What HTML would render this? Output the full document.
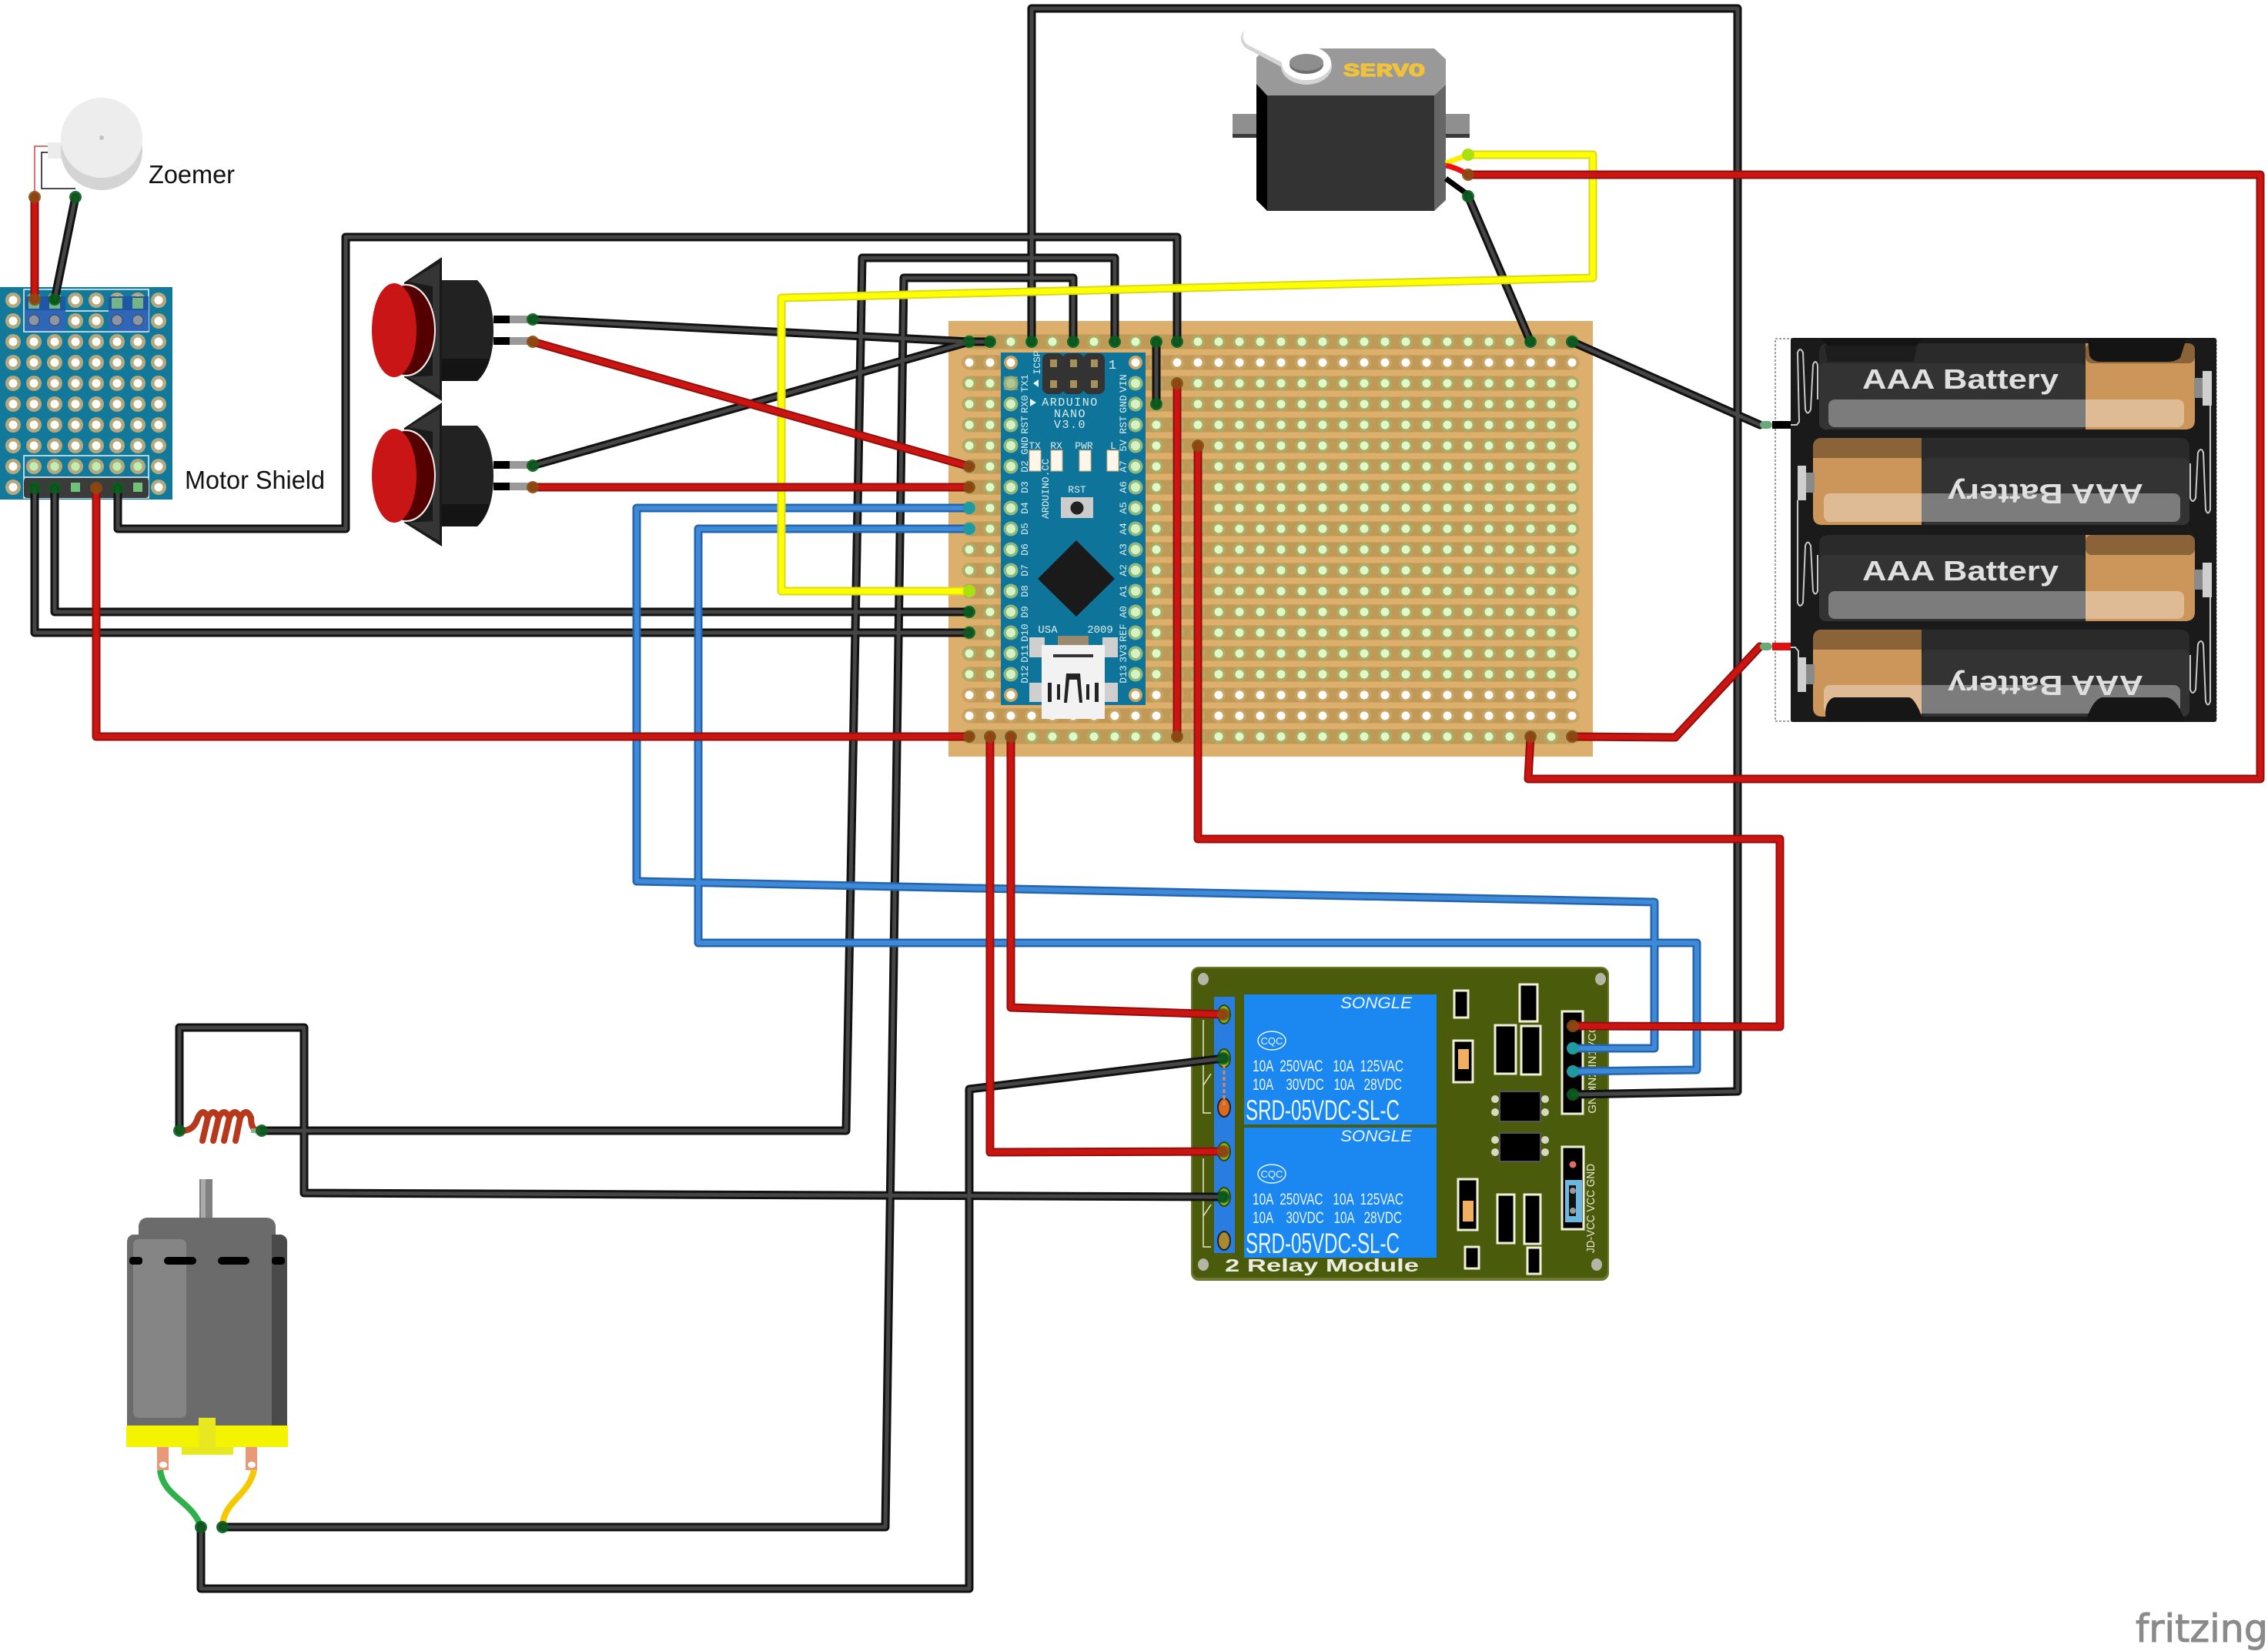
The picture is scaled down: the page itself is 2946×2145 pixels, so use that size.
<!DOCTYPE html>
<html><head><meta charset="utf-8"><style>
html,body{margin:0;padding:0;background:#fff}
svg{display:block}
text{font-family:"Liberation Sans",sans-serif;white-space:pre}
.m{font-family:"Liberation Mono",monospace;fill:#d8eef2;font-size:13px;text-anchor:middle}
.r{fill:#e8f4fb;font-size:21px}
.c{fill:#000;stroke:#f0f0d8;stroke-width:3}
.e{fill:none;stroke-linecap:round;stroke-linejoin:round}
</style></head><body>
<svg width="2946" height="2145" viewBox="0 0 2946 2145" xmlns="http://www.w3.org/2000/svg">
<defs>
<pattern id="hg" patternUnits="userSpaceOnUse" x="1245.5" y="430.5" width="27" height="27"><circle cx="13.5" cy="13.5" r="9" fill="#a9ad66"/><circle cx="13.5" cy="13.5" r="5.5" fill="#e2f8c8"/></pattern>
<pattern id="hw" patternUnits="userSpaceOnUse" x="1245.5" y="430.5" width="27" height="27"><circle cx="13.5" cy="13.5" r="9" fill="#c8a465"/><circle cx="13.5" cy="13.5" r="5.5" fill="#fff"/></pattern>
<pattern id="pn" patternUnits="userSpaceOnUse" x="1245.5" y="430.5" width="27" height="27"><circle cx="13.5" cy="13.5" r="9.5" fill="#8fb87e"/><circle cx="13.5" cy="13.5" r="6" fill="#d4f2c4"/></pattern>
<pattern id="sh" patternUnits="userSpaceOnUse" x="3.5" y="376.5" width="27" height="27"><circle cx="13.5" cy="13.5" r="10" fill="#b3a87e"/><circle cx="13.5" cy="13.5" r="5.5" fill="#fff"/></pattern>
<g id="wk" class="e">
<path d="M1340 444V11H2257V1418L2043 1422"/>
<path d="M1394 444V361H1174L1150 1984H289"/>
<path d="M1448 444V335H1120L1099 1469H340"/>
<path d="M1529 444V308H449V687H153V634"/>
<path d="M1502 444V525"/>
<path d="M692 415L1259 444H1286"/>
<path d="M692 605L1259 444"/>
<path d="M1907 255L1988 444"/>
<path d="M2042 444L2286 552"/>
<path d="M45 634V822H1259"/>
<path d="M71 634V795H1259"/>
<path d="M1589 1375L1259 1415V2064H261V1984"/>
<path d="M233 1469V1335H395V1550L1589 1555"/>
<path d="M98 256L71 389"/>
</g>
<g id="wr" class="e">
<path d="M692 444L1259 606"/>
<path d="M692 633H1259"/>
<path d="M1907 227H2936V1012H1985L1988 957"/>
<path d="M2042 957L2176 958L2286 840"/>
<path d="M1556 579V1090H2312V1334L2043 1333"/>
<path d="M125 634V957H1259"/>
<path d="M1286 957V1497L1589 1496"/>
<path d="M1313 957V1309L1589 1318"/>
<path d="M1529 498V957"/>
<path d="M45 256V389"/>
</g>
<g id="wb" class="e">
<path d="M1259 660H827V1145L2149 1172V1362H2043"/>
<path d="M1259 687H907V1225H2204V1390L2043 1392"/>
</g>
<g id="wy" class="e">
<path d="M1259 768H1015V387L2069 361V201H1907"/>
</g>
</defs>
<rect width="2946" height="2145" fill="#fff"/>

<!-- Stripboard -->
<rect x="1232" y="417" width="837" height="566" fill="#dcb06c"/>
<path stroke="#bf9955" stroke-width="19" stroke-linecap="round" fill="none" d="M1259 444H2042M1259 471H2042M1259 498H2042M1259 525H2042M1259 552H2042M1259 579H2042M1259 606H2042M1259 633H2042M1259 660H2042M1259 687H2042M1259 714H2042M1259 741H2042M1259 768H2042M1259 795H2042M1259 822H2042M1259 849H2042M1259 876H2042M1259 903H2042M1259 930H2042M1259 957H2042"/>
<rect x="1245.5" y="430.5" width="810" height="27" fill="url(#hg)"/>
<rect x="1245.5" y="457.5" width="810" height="27" fill="url(#hw)"/>
<rect x="1245.5" y="484.5" width="810" height="405" fill="url(#hg)"/>
<rect x="1245.5" y="889.5" width="810" height="54" fill="url(#hw)"/>
<rect x="1245.5" y="943.5" width="810" height="27" fill="url(#hg)"/>

<!-- Arduino Nano -->
<rect x="1300" y="458" width="188" height="458" fill="#0f7499"/>
<rect x="1299.5" y="484.5" width="27" height="405" fill="url(#pn)"/>
<rect x="1461.5" y="484.5" width="27" height="405" fill="url(#pn)"/>
<rect x="1304" y="489" width="18" height="18" fill="#a0a878" opacity=".6"/>
<circle cx="1313" cy="471" r="9" fill="#c8a465"/><circle cx="1313" cy="471" r="5.5" fill="#fff"/>
<circle cx="1475" cy="471" r="9" fill="#c8a465"/><circle cx="1475" cy="471" r="5.5" fill="#fff"/>
<circle cx="1313" cy="903" r="9" fill="#c8a465"/><circle cx="1313" cy="903" r="5.5" fill="#fff"/>
<circle cx="1475" cy="903" r="9" fill="#c8a465"/><circle cx="1475" cy="903" r="5.5" fill="#fff"/>
<g fill="#333"><rect x="1354" y="459" width="28" height="53" rx="8"/><rect x="1380" y="459" width="28" height="53" rx="8"/><rect x="1407" y="459" width="28" height="53" rx="8"/></g>
<g fill="#a8905a"><rect x="1364" y="467" width="9" height="10"/><rect x="1390" y="467" width="9" height="10"/><rect x="1417" y="467" width="9" height="10"/><rect x="1364" y="494" width="9" height="10"/><rect x="1390" y="494" width="9" height="10"/><rect x="1417" y="494" width="9" height="10"/></g>
<text class="m" transform="translate(1351,471) rotate(-90)">ICSP</text>
<text class="m" x="1445" y="479" style="font-size:17px">1</text>
<path d="M1342 498l7 -5v10z" fill="#e8f4f8"/>
<path d="M1338 518v10l8 -5z" fill="#e8f4f8"/>
<text class="m" x="1390" y="527" letter-spacing="1.5" style="font-size:15px">ARDUINO</text>
<text class="m" x="1390" y="542" letter-spacing="1.5" style="font-size:15px">NANO</text>
<text class="m" x="1390" y="556" letter-spacing="1.5" style="font-size:15px">V3.0</text>
<g fill="#fdf6ea" stroke="#d8b078" stroke-width="1"><rect x="1337" y="585" width="15" height="27"/><rect x="1365" y="585" width="15" height="27"/><rect x="1402" y="585" width="15" height="27"/><rect x="1438" y="585" width="15" height="27"/></g>
<text class="m" x="1344" y="583">TX</text><text class="m" x="1372" y="583">RX</text><text class="m" x="1408" y="583">PWR</text><text class="m" x="1446" y="583">L</text>
<text class="m" transform="translate(1362,635) rotate(-90)">ARDUINO.CC</text>
<text class="m" x="1399" y="640">RST</text>
<rect x="1378" y="646" width="42" height="27" fill="#ccc"/><circle cx="1399" cy="660" r="8.5" fill="#222"/>
<path d="M1398 702L1448 752L1398 801L1348 752Z" fill="#1a1a1a"/>
<text class="m" x="1361" y="822" style="font-size:14px">USA</text><text class="m" x="1429" y="822" style="font-size:14px">2009</text>
<g>
<text class="m" transform="translate(1335,498) rotate(-90)">TX1</text><text class="m" transform="translate(1335,525) rotate(-90)">RX0</text><text class="m" transform="translate(1335,552) rotate(-90)">RST</text><text class="m" transform="translate(1335,579) rotate(-90)">GND</text><text class="m" transform="translate(1335,606) rotate(-90)">D2</text><text class="m" transform="translate(1335,633) rotate(-90)">D3</text><text class="m" transform="translate(1335,660) rotate(-90)">D4</text><text class="m" transform="translate(1335,687) rotate(-90)">D5</text><text class="m" transform="translate(1335,714) rotate(-90)">D6</text><text class="m" transform="translate(1335,741) rotate(-90)">D7</text><text class="m" transform="translate(1335,768) rotate(-90)">D8</text><text class="m" transform="translate(1335,795) rotate(-90)">D9</text><text class="m" transform="translate(1335,822) rotate(-90)">D10</text><text class="m" transform="translate(1335,849) rotate(-90)">D11</text><text class="m" transform="translate(1335,876) rotate(-90)">D12</text>
<text class="m" transform="translate(1463,498) rotate(-90)">VIN</text><text class="m" transform="translate(1463,525) rotate(-90)">GND</text><text class="m" transform="translate(1463,552) rotate(-90)">RST</text><text class="m" transform="translate(1463,579) rotate(-90)">5V</text><text class="m" transform="translate(1463,606) rotate(-90)">A7</text><text class="m" transform="translate(1463,633) rotate(-90)">A6</text><text class="m" transform="translate(1463,660) rotate(-90)">A5</text><text class="m" transform="translate(1463,687) rotate(-90)">A4</text><text class="m" transform="translate(1463,714) rotate(-90)">A3</text><text class="m" transform="translate(1463,741) rotate(-90)">A2</text><text class="m" transform="translate(1463,768) rotate(-90)">A1</text><text class="m" transform="translate(1463,795) rotate(-90)">A0</text><text class="m" transform="translate(1463,822) rotate(-90)">REF</text><text class="m" transform="translate(1463,849) rotate(-90)">3V3</text><text class="m" transform="translate(1463,876) rotate(-90)">D13</text>
</g>
<g fill="#cfcfcf"><rect x="1337" y="828" width="20" height="26"/><rect x="1432" y="828" width="20" height="26"/><rect x="1337" y="887" width="20" height="25"/><rect x="1432" y="887" width="20" height="25"/></g>
<rect x="1374" y="826" width="40" height="12" fill="#9a8a70"/>
<rect x="1353" y="838" width="82" height="96" fill="#f2f2f2"/>
<rect x="1368" y="850" width="52" height="4" fill="#333"/>
<path d="M1385 875h18l3 38h-4l-3 -30h-10l-3 30h-4z" fill="#222"/>
<rect x="1361" y="887" width="5" height="25" fill="#222"/><rect x="1422" y="887" width="5" height="25" fill="#222"/>
<rect x="1373" y="889" width="4" height="20" fill="#222"/><rect x="1411" y="889" width="4" height="20" fill="#222"/>

<!-- Shield -->
<rect x="0" y="373" width="224" height="276" fill="#12799a"/>
<rect x="3.5" y="376.5" width="216" height="270" fill="url(#sh)"/>
<rect x="31" y="376" width="162" height="55" fill="none" stroke="#e8f2f2" stroke-width="1.5"/>
<rect x="31" y="592" width="162" height="55" fill="none" stroke="#e8f2f2" stroke-width="1.5"/>
<path d="M85 404h56M31 620h162" stroke="#e8f2f2" stroke-width="1.5"/>
<g fill="#1f57a5"><rect x="33" y="385" width="52" height="45"/><rect x="141" y="385" width="52" height="45"/></g>
<g fill="#2f66b8"><rect x="33" y="403" width="52" height="27"/><rect x="141" y="403" width="52" height="27"/></g>
<g fill="#73b586"><rect x="37" y="387" width="14" height="14"/><rect x="64" y="387" width="14" height="14"/><rect x="145" y="387" width="14" height="14"/><rect x="172" y="387" width="14" height="14"/></g>
<g fill="#8a96a5" stroke="#444" stroke-width="1"><circle cx="44" cy="416" r="7"/><circle cx="71" cy="416" r="7"/><circle cx="152" cy="416" r="7"/><circle cx="179" cy="416" r="7"/></g>
<rect x="31" y="621" width="162" height="26" rx="4" fill="#3b3b3b"/>
<g fill="#6fc276"><rect x="92" y="627" width="12" height="12"/><rect x="173" y="627" width="12" height="12"/></g>
<g fill="#bcefb0"><circle cx="44" cy="606" r="5.5"/><circle cx="71" cy="606" r="5.5"/><circle cx="98" cy="606" r="5.5"/><circle cx="125" cy="606" r="5.5"/><circle cx="152" cy="606" r="5.5"/><circle cx="179" cy="606" r="5.5"/></g>
<text x="240" y="635" font-size="33" fill="#111" textLength="182" lengthAdjust="spacingAndGlyphs">Motor Shield</text>

<!-- Buzzer -->
<path d="M45 256V190H80" fill="none" stroke="#d84040" stroke-width="1.5"/>
<path d="M98 245H54V198H80" fill="none" stroke="#111" stroke-width="1.5"/>
<rect x="62" y="185" width="18" height="21" fill="#ececec"/>
<ellipse cx="132" cy="196" rx="53" ry="51" fill="#d4d4d4"/>
<ellipse cx="132" cy="179" rx="53" ry="52" fill="#ededed"/>
<circle cx="132" cy="179" r="3" fill="#c4c4c4"/>
<text x="193" y="238" font-size="33" fill="#111" textLength="112" lengthAdjust="spacingAndGlyphs">Zoemer</text>

<!-- Buttons -->
<g id="bt">
<path d="M574 334V521L525 490V367Z" fill="#1a1a1a"/><path d="M571 342L530 366L562 372V488L530 490L571 514" fill="#484848" opacity=".6"/>
<path d="M574 364H620Q641 385 641 430Q641 475 620 495H574Z" fill="#222"/><path d="M574 466H636Q632 482 620 495H574Z" fill="#141414"/>
<ellipse cx="528" cy="429" rx="38" ry="60" fill="#f4e8e8"/><ellipse cx="527" cy="429" rx="37" ry="58" fill="#540000"/>
<ellipse cx="512" cy="429" rx="29" ry="61" fill="#c91515"/>
<rect x="641" y="410" width="21" height="10" fill="#000"/><rect x="662" y="410" width="30" height="10" fill="#999"/>
<rect x="641" y="438" width="21" height="10" fill="#000"/><rect x="662" y="438" width="30" height="10" fill="#999"/>
</g>
<use href="#bt" y="189"/>

<!-- Servo -->
<path d="M1601 148H1646V178H1601Z" fill="#8f8f8f"/><rect x="1601" y="174" width="45" height="5" fill="#3a3a3a"/>
<path d="M1863 148H1909V178H1863Z" fill="#8f8f8f"/><rect x="1863" y="174" width="46" height="5" fill="#3a3a3a"/>
<path d="M1632 75L1643 63H1863L1878 77V110L1863 124H1646L1632 109Z" fill="#999"/>
<path d="M1632 109L1646 124V274L1632 260Z" fill="#000"/>
<path d="M1863 124L1878 110V260L1863 274Z" fill="#666"/>
<rect x="1646" y="124" width="217" height="150" fill="#333"/>
<path d="M1628 48L1697 85" stroke="#d4d4d4" stroke-width="30" stroke-linecap="round" transform="translate(-1,2)"/>
<ellipse cx="1697" cy="86" rx="33" ry="24" fill="#d4d4d4"/>
<path d="M1628 47L1697 82" stroke="#fff" stroke-width="27" stroke-linecap="round"/>
<ellipse cx="1697" cy="82" rx="32" ry="22" fill="#fff"/>
<ellipse cx="1697" cy="84" rx="22" ry="12" fill="#6e6e6e"/><ellipse cx="1697" cy="81" rx="22" ry="11" fill="#8e8e8e"/>
<text x="1745" y="99" font-weight="700" font-size="24" fill="#f0c23c" stroke="#f0c23c" stroke-width="1.2" textLength="106" lengthAdjust="spacingAndGlyphs" style="font-family:'Liberation Mono',monospace">SERVO</text>
<path d="M1878 212L1907 201" stroke="#ffee00" stroke-width="7" fill="none"/>
<path d="M1878 215Q1893 218 1907 227" stroke="#ee1010" stroke-width="7" fill="none"/>
<path d="M1878 232L1907 253" stroke="#000" stroke-width="7" fill="none"/>

<!-- Battery -->
<rect x="2306" y="440" width="573" height="497" fill="none" stroke="#444" stroke-width="1" stroke-dasharray="3 2"/>
<rect x="2326" y="439" width="553" height="499" rx="3" fill="#1a1a1a"/>
<g id="bA">
<path d="M2363 458Q2363 446 2375 446H2709V558H2375Q2363 558 2363 546Z" fill="#2a2a2a"/>
<rect x="2363" y="472" width="346" height="86" rx="8" fill="#333"/>
<path d="M2709 446H2840Q2851 446 2851 458V546Q2851 558 2838 558H2709Z" fill="#cc9559"/>
<rect x="2709" y="446" width="142" height="26" rx="8" fill="#8a6338"/>
<rect x="2375" y="519" width="462" height="36" rx="8" fill="#fff" opacity=".36"/>
<text x="2419" y="505" font-size="36" font-weight="700" fill="#dfdfdf" textLength="255" lengthAdjust="spacingAndGlyphs">AAA Battery</text>
</g>
<use href="#bA" y="249"/>
<path d="M2366 440H2496L2490 449H2374ZM2712 440H2840L2832 465Q2825 470 2815 470H2728Q2718 470 2714 462Z" fill="#141414"/>
<path d="M2370 449H2490L2486 470H2374Z" fill="#1d1d1d"/>
<g id="bB">
<path d="M2355 581Q2355 569 2367 569H2496V682H2367Q2355 682 2355 670Z" fill="#cc9559"/>
<path d="M2355 581Q2355 569 2367 569H2496V595H2355Z" fill="#8a6338"/>
<path d="M2496 569H2832Q2844 569 2844 581V670Q2844 682 2832 682H2496Z" fill="#2a2a2a"/>
<rect x="2496" y="595" width="348" height="87" rx="8" fill="#333"/>
<rect x="2369" y="641" width="463" height="37" rx="8" fill="#fff" opacity=".36"/>
<text transform="rotate(180 2657 642)" x="2530" y="655" font-size="36" font-weight="700" fill="#dfdfdf" textLength="254" lengthAdjust="spacingAndGlyphs">AAA Battery</text>
</g>
<use href="#bB" y="249"/>
<path d="M2372 938Q2368 912 2382 906H2480Q2488 908 2498 935ZM2710 935Q2718 910 2730 906H2815Q2830 910 2838 938H2710Z" fill="#161616"/>
<g fill="#cfcfcf"><rect x="2861" y="482" width="12" height="45"/><rect x="2861" y="731" width="12" height="45"/><rect x="2335" y="605" width="11" height="45"/><rect x="2335" y="854" width="11" height="45"/></g>
<g fill="#8a8a8a"><rect x="2850" y="491" width="11" height="26"/><rect x="2850" y="740" width="11" height="26"/><rect x="2346" y="614" width="11" height="26"/><rect x="2346" y="863" width="11" height="26"/></g>
<g fill="none" stroke="#c8c8c8" stroke-width="2">
<path d="M2326 552H2334L2337 548L2335 458Q2338 450 2342 458L2345 532Q2348 541 2352 532L2355 474Q2358 466 2361 474V519"/>
<path d="M2871 527V662Q2868 671 2865 662L2862 588Q2859 580 2855 588L2852 647Q2848 655 2845 647V602"/>
<path d="M2871 776V911Q2868 920 2865 911L2862 837Q2859 829 2855 837L2852 896Q2848 904 2845 896V851"/>
<path d="M2335 650V783Q2338 791 2342 783L2345 709Q2348 700 2352 709L2355 768Q2358 775 2361 768V721"/>
<path d="M2326 841H2332L2336 846V854"/>
</g>
<rect x="2302" y="547" width="24" height="10" fill="#000"/><rect x="2302" y="835" width="24" height="10" fill="#e01010"/>

<!-- Relay -->
<rect x="1547" y="1256" width="543" height="408" rx="10" fill="#6f7a30"/>
<rect x="1549" y="1258" width="539" height="402" rx="8" fill="#4a5c0c"/>
<g fill="#b5b5a5"><ellipse cx="1563" cy="1272" rx="7" ry="8"/><ellipse cx="2079" cy="1272" rx="7" ry="8"/><ellipse cx="1563" cy="1643" rx="7" ry="8"/><ellipse cx="2074" cy="1643" rx="7" ry="8"/></g>
<path d="M1563 1325V1446H1573M1563 1505V1620H1573M1563 1410L1573 1395M1563 1580L1573 1565" fill="none" stroke="#e8e8c8" stroke-width="1.5"/>
<rect x="1577" y="1295" width="27" height="333" fill="#2a7de0"/>
<g fill="#7fb020" stroke="#2e4a10" stroke-width="2"><ellipse cx="1590" cy="1318" rx="8" ry="12"/><ellipse cx="1590" cy="1375" rx="8" ry="12"/><ellipse cx="1590" cy="1496" rx="8" ry="12"/><ellipse cx="1590" cy="1555" rx="8" ry="12"/></g>
<ellipse cx="1590" cy="1439" rx="8" ry="12" fill="#d86a20" stroke="#222" stroke-width="2"/>
<ellipse cx="1590" cy="1612" rx="8" ry="12" fill="#a88a30" stroke="#222" stroke-width="2"/>
<path d="M1590 1375V1439" stroke="#e08a50" stroke-width="3" stroke-dasharray="5 3"/>
<g id="rl">
<rect x="1616" y="1292" width="250" height="169" fill="#1a88f0"/>
<text x="1741" y="1310" class="r" font-style="italic" textLength="93" lengthAdjust="spacingAndGlyphs">SONGLE</text>
<ellipse cx="1652" cy="1352" rx="18" ry="12" fill="none" stroke="#e8f4fb" stroke-width="1.5"/>
<text x="1652" y="1357" text-anchor="middle" style="font-size:13px;fill:#e8f4fb">CQC</text>
<text x="1627" y="1392" class="r" textLength="196" lengthAdjust="spacingAndGlyphs">10A  250VAC   10A  125VAC</text>
<text x="1627" y="1416" class="r" textLength="194" lengthAdjust="spacingAndGlyphs">10A    30VDC   10A   28VDC</text>
<text x="1618" y="1455" style="font-size:37px;fill:#e8f4fb" textLength="200" lengthAdjust="spacingAndGlyphs">SRD-05VDC-SL-C</text>
</g>
<use href="#rl" y="173"/>
<text x="1591" y="1652" style="font-size:23px;fill:#ecece0;font-weight:700" textLength="252" lengthAdjust="spacingAndGlyphs">2 Relay Module</text>
<rect class="c" x="1889" y="1287" width="18" height="35"/>
<rect class="c" x="1974" y="1279" width="23" height="48"/>
<rect class="c" x="1942" y="1332" width="27" height="63"/>
<rect class="c" x="1976" y="1333" width="25" height="63"/>
<rect class="c" x="1888" y="1352" width="25" height="54"/><rect x="1894" y="1363" width="14" height="26" fill="#f0b060"/>
<rect class="c" x="2029" y="1314" width="27" height="133"/>
<rect class="c" x="2029" y="1490" width="28" height="107"/><circle cx="2043" cy="1513" r="4.5" fill="#e06a6a"/><rect x="2033" y="1533" width="22" height="55" fill="#6ab8e0"/><rect x="2038" y="1540" width="9" height="40" fill="#111"/><circle cx="2043" cy="1547" r="4" fill="#999"/><circle cx="2043" cy="1573" r="4" fill="#999"/>
<rect class="c" x="1894" y="1532" width="25" height="66"/><rect x="1900" y="1560" width="14" height="27" fill="#f0b060"/>
<rect class="c" x="1945" y="1552" width="22" height="63"/>
<rect class="c" x="1980" y="1552" width="21" height="64"/>
<rect class="c" x="1903" y="1620" width="18" height="28"/>
<rect class="c" x="1984" y="1621" width="17" height="34"/>
<g fill="#d8d8c0"><circle cx="1942" cy="1428" r="5"/><circle cx="1942" cy="1445" r="5"/><circle cx="2007" cy="1428" r="5"/><circle cx="2007" cy="1445" r="5"/><circle cx="1942" cy="1481" r="5"/><circle cx="1942" cy="1497" r="5"/><circle cx="2007" cy="1481" r="5"/><circle cx="2007" cy="1497" r="5"/></g>
<rect x="1948" y="1418" width="53" height="39" fill="#000" stroke="#555" stroke-width="2"/>
<rect x="1948" y="1472" width="53" height="37" fill="#000" stroke="#555" stroke-width="2"/>
<g style="font-size:15px;fill:#e8e8d0">
<text transform="translate(2073,1347) rotate(-90)" text-anchor="middle">VCC</text>
<text transform="translate(2073,1375) rotate(-90)" text-anchor="middle">IN1</text>
<text transform="translate(2073,1403) rotate(-90)" text-anchor="middle">IN2</text>
<text transform="translate(2073,1430) rotate(-90)" text-anchor="middle">GND</text>
<text transform="translate(2071,1570) rotate(-90)" text-anchor="middle" textLength="116" lengthAdjust="spacingAndGlyphs">JD-VCC VCC GND</text>
</g>

<!-- Motor -->
<rect x="259" y="1532" width="17" height="50" fill="#808080"/><rect x="261" y="1532" width="6" height="50" fill="#aaa"/>
<path d="M180 1604V1592Q182 1582 192 1582H345Q356 1582 358 1592V1604H365Q373 1606 373 1614V1852H165V1614Q165 1606 172 1604Z" fill="#6b6b6b"/>
<rect x="173" y="1610" width="69" height="232" rx="7" fill="#858585"/>
<path d="M353 1604H365Q373 1606 373 1614V1852H353Z" fill="#4a4a4a"/>
<g fill="#000"><rect x="168" y="1633" width="17" height="10" rx="4"/><rect x="213" y="1633" width="42" height="10" rx="5"/><rect x="283" y="1633" width="41" height="10" rx="5"/><rect x="353" y="1633" width="17" height="10" rx="4"/></g>
<rect x="236" y="1880" width="67" height="10" fill="#e8e820"/>
<rect x="164" y="1852" width="210" height="28" fill="#f4f400"/>
<rect x="258" y="1842" width="22" height="38" fill="#e8e820"/>
<rect x="204" y="1880" width="15" height="30" fill="#e89a78"/><rect x="319" y="1880" width="15" height="30" fill="#e89a78"/>
<ellipse cx="212" cy="1903" rx="5" ry="4" fill="#fff"/><ellipse cx="327" cy="1903" rx="5" ry="4" fill="#fff"/>
<path d="M208 1910C212 1945 250 1950 261 1984" fill="none" stroke="#2fb04a" stroke-width="8"/>
<path d="M330 1910C322 1945 290 1950 289 1984" fill="none" stroke="#f5c800" stroke-width="8"/>

<!-- Wires -->
<use href="#wk" stroke="#111" stroke-width="11"/>
<use href="#wk" stroke="#454545" stroke-width="5"/>
<use href="#wb" stroke="#2464ac" stroke-width="11"/>
<use href="#wb" stroke="#3f8ad8" stroke-width="6"/>
<use href="#wy" stroke="#d8d820" stroke-width="11"/>
<use href="#wy" stroke="#ffff00" stroke-width="7"/>
<use href="#wr" stroke="#8f0f0f" stroke-width="11"/>
<use href="#wr" stroke="#cc1410" stroke-width="7"/>

<!-- Coil -->
<g fill="none" stroke="#b5391a" stroke-width="8" stroke-linecap="round">
<path d="M237 1469Q252 1469 257 1452Q264 1438 270 1452L263 1482"/>
<path d="M270 1452Q277 1438 284 1452L277 1482"/>
<path d="M284 1452Q291 1438 298 1452L291 1482"/>
<path d="M298 1452Q305 1438 312 1452L306 1482"/>
<path d="M312 1452Q320 1438 326 1452Q326 1469 336 1469"/>
</g>
<path d="M326 1469H338" stroke="#8ab090" stroke-width="6"/>

<!-- Connector ends -->
<g fill="#0b5c1e" opacity=".9">
<circle cx="1259" cy="444" r="8"/><circle cx="1286" cy="444" r="8"/><circle cx="1340" cy="444" r="8"/><circle cx="1394" cy="444" r="8"/><circle cx="1448" cy="444" r="8"/><circle cx="1502" cy="444" r="8"/><circle cx="1529" cy="444" r="8"/><circle cx="1502" cy="525" r="8"/><circle cx="1988" cy="444" r="8"/><circle cx="2042" cy="444" r="8"/><circle cx="1259" cy="795" r="8"/><circle cx="1259" cy="822" r="8"/>
<circle cx="692" cy="415" r="8"/><circle cx="692" cy="605" r="8"/><circle cx="1907" cy="255" r="8"/><circle cx="45" cy="634" r="8"/><circle cx="71" cy="634" r="8"/><circle cx="153" cy="634" r="8"/><circle cx="98" cy="256" r="8"/><circle cx="71" cy="389" r="8"/><circle cx="233" cy="1469" r="8"/><circle cx="340" cy="1469" r="8"/><circle cx="261" cy="1984" r="8"/><circle cx="289" cy="1984" r="8"/><circle cx="1589" cy="1375" r="8"/><circle cx="1589" cy="1555" r="8"/><circle cx="2043" cy="1422" r="8"/>
</g>
<g fill="#6aa878"><rect x="2286" y="547" width="16" height="10" rx="5"/><rect x="2286" y="835" width="16" height="10" rx="5"/></g>
<g fill="#8b4a12" opacity=".9">
<circle cx="1259" cy="606" r="8"/><circle cx="1259" cy="633" r="8"/><circle cx="1259" cy="957" r="8"/><circle cx="1286" cy="957" r="8"/><circle cx="1313" cy="957" r="8"/><circle cx="1529" cy="498" r="8"/><circle cx="1529" cy="957" r="8"/><circle cx="1556" cy="579" r="8"/><circle cx="1988" cy="957" r="8"/><circle cx="2042" cy="957" r="8"/><circle cx="1907" cy="227" r="8"/><circle cx="692" cy="444" r="8"/><circle cx="692" cy="633" r="8"/><circle cx="125" cy="634" r="8"/><circle cx="45" cy="256" r="8"/><circle cx="45" cy="389" r="8"/><circle cx="1589" cy="1318" r="8"/><circle cx="1589" cy="1496" r="8"/><circle cx="2043" cy="1333" r="8"/>
</g>
<g fill="#1f9aa0"><circle cx="1259" cy="660" r="8"/><circle cx="1259" cy="687" r="8"/><circle cx="2043" cy="1362" r="8"/><circle cx="2043" cy="1392" r="8"/></g>
<g fill="#a8e010"><circle cx="1259" cy="768" r="8"/><circle cx="1907" cy="201" r="8"/></g>

<text x="2774" y="2133" fill="#8a8a8a" stroke="#8a8a8a" stroke-width="1" font-size="50" textLength="172" lengthAdjust="spacingAndGlyphs" style="font-family:'DejaVu Sans',sans-serif">fritzing</text>
</svg>
</body></html>
